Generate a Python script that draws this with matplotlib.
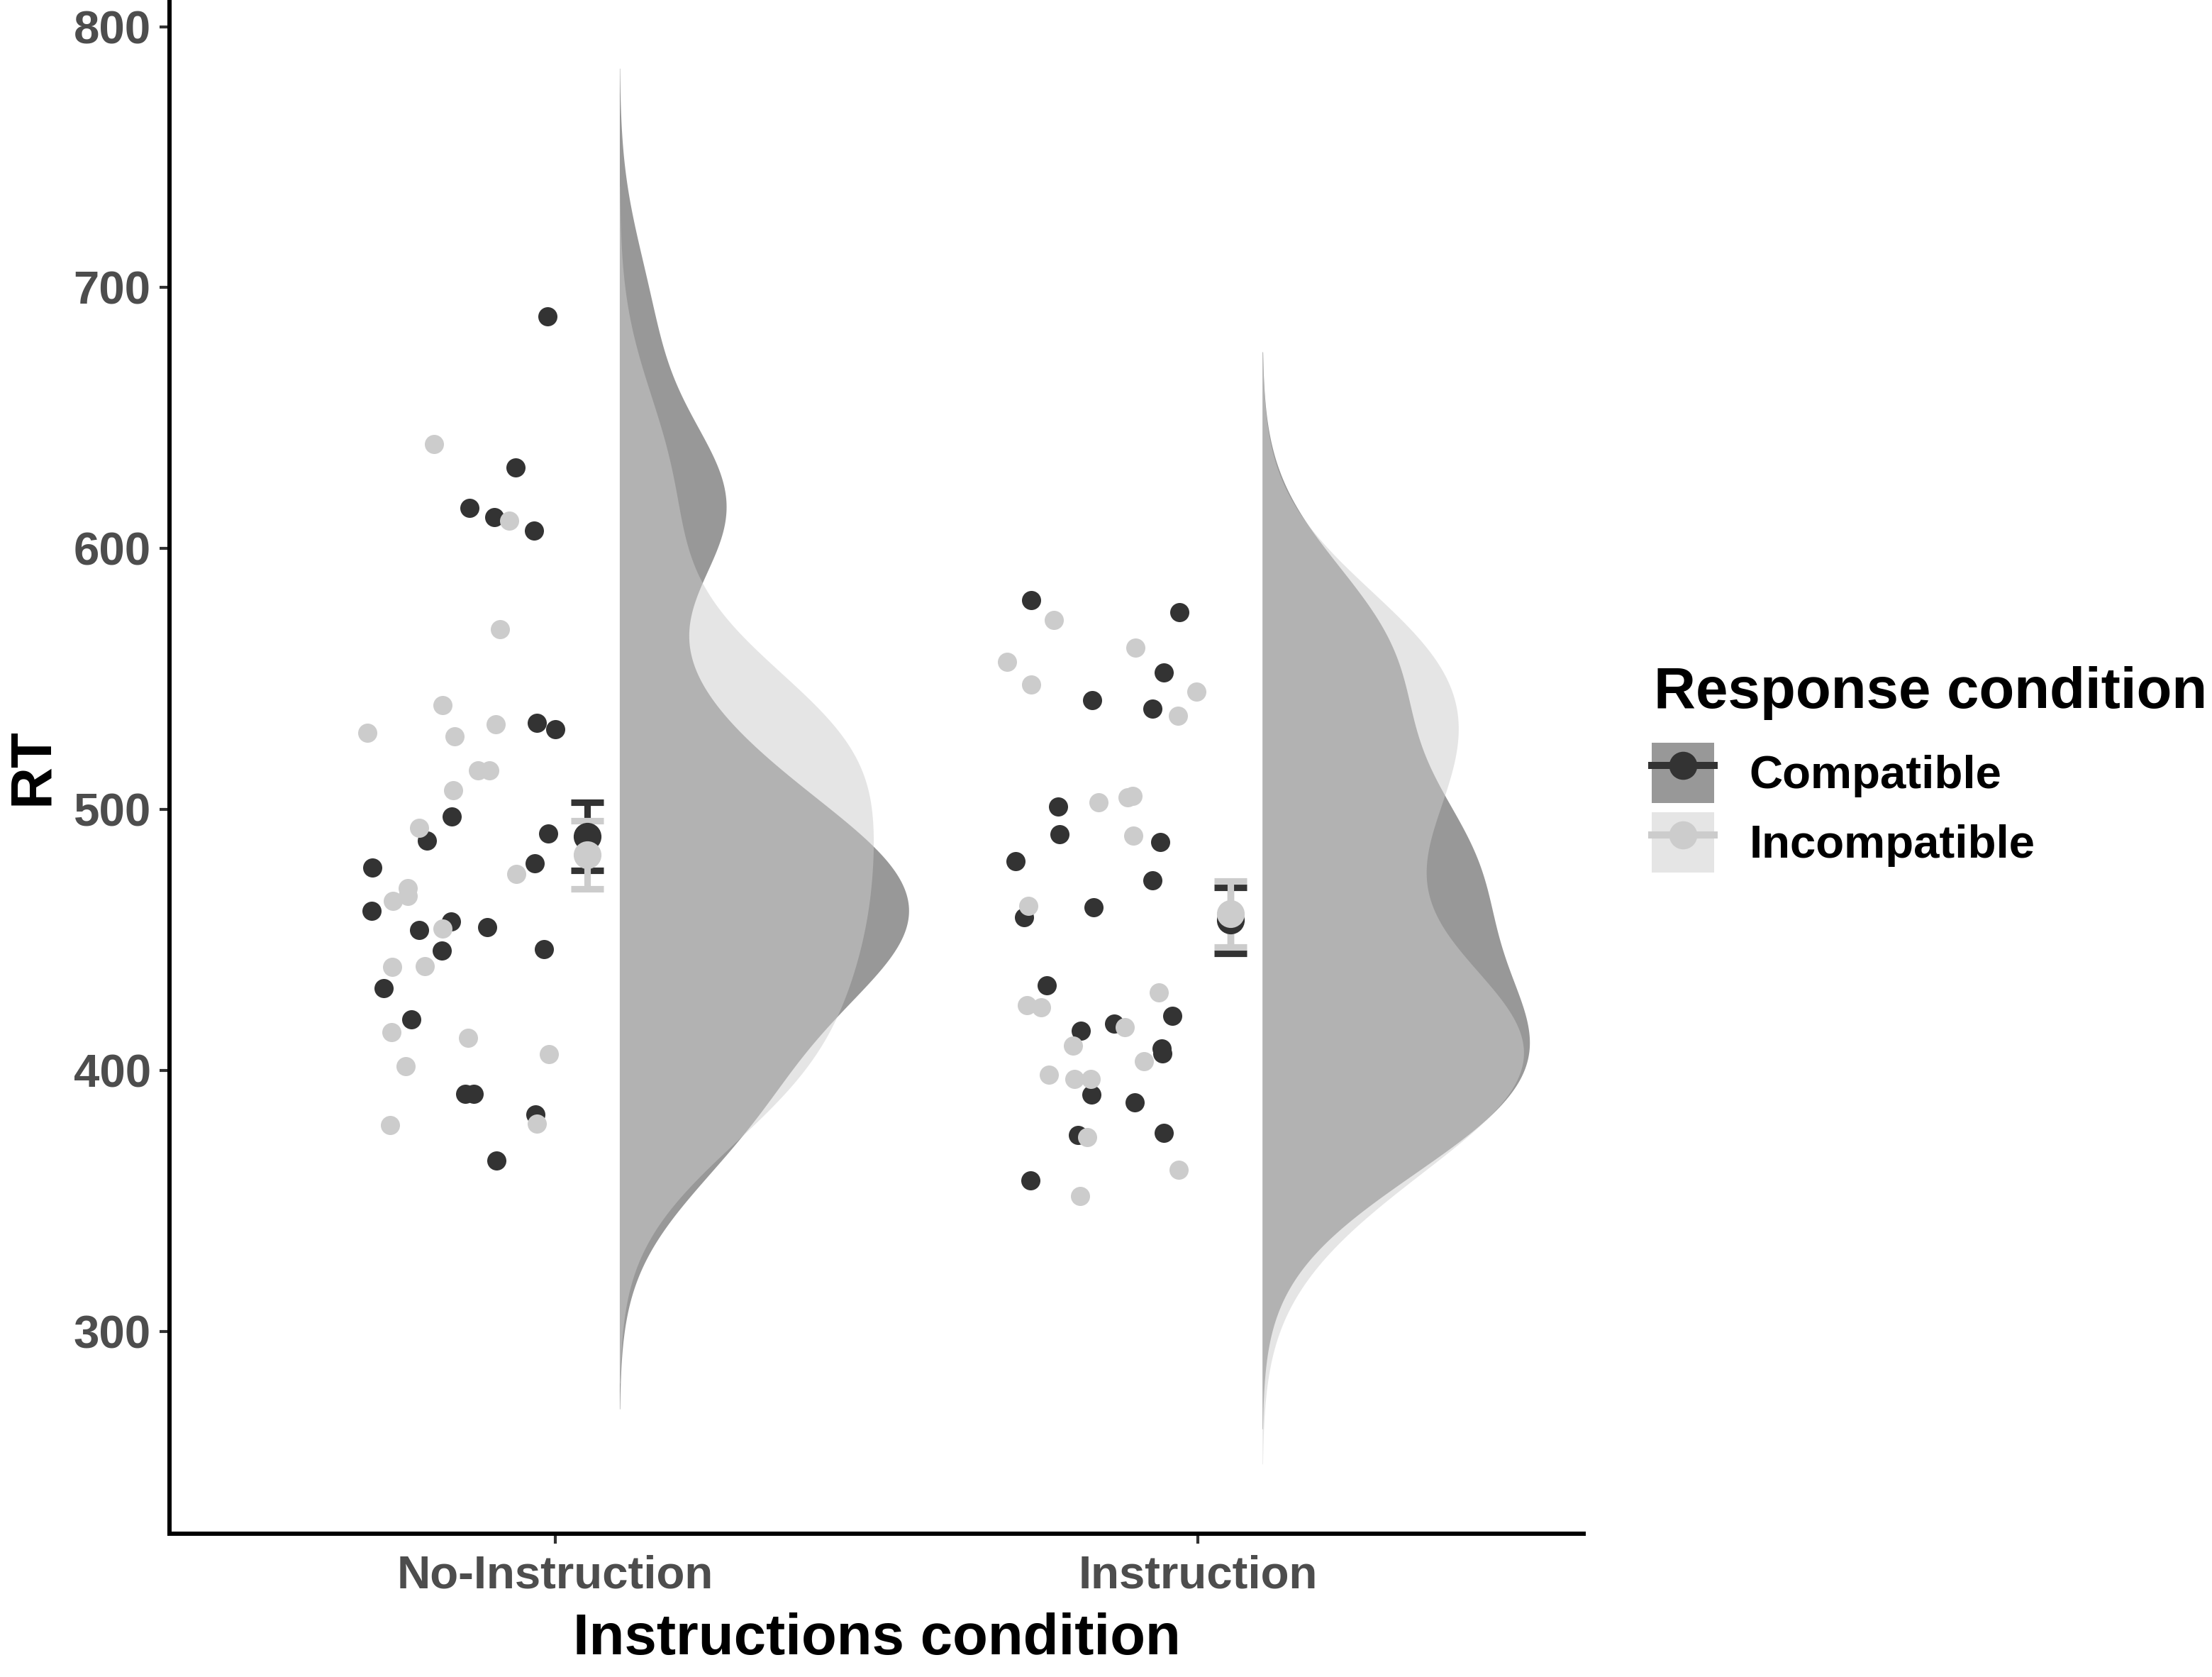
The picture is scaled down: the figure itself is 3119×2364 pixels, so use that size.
import numpy as np
import matplotlib
matplotlib.use("Agg")
import matplotlib.pyplot as plt
from matplotlib.patches import Patch
from matplotlib.lines import Line2D

plt.rcParams['font.family'] = ['Liberation Sans', 'DejaVu Sans']

# ---- data ----------------------------------------------------------------
categories = ["No-Instruction", "Instruction"]
responses = ["Compatible", "Incompatible"]

# No-Instruction
noinst_comp_rt = [689, 631, 615.5, 612, 607, 533.3, 530.8, 497.4, 488.1, 490.9, 477.9, 479.4,
                  461.1, 457, 454, 454.9, 446, 446.4, 431.5, 419.6, 391, 391, 383.2, 365.4]
noinst_comp_jit = [-0.012, -0.062, -0.133, -0.095, -0.033, -0.029, 0.000, -0.161, -0.200, -0.011, -0.285, -0.032,
                   -0.286, -0.162, -0.212, -0.106, -0.176, -0.017, -0.267, -0.224, -0.140, -0.127, -0.031, -0.091]
noinst_incomp_rt = [640, 610.7, 569, 540, 529.4, 528, 532.7, 515, 515, 507.5, 492.9, 475.4,
                    469.8, 466.8, 465.1, 454.3, 439.8, 440.1, 414.8, 412.5, 406.2, 401.7, 379.8, 379.1]
noinst_incomp_jit = [-0.188, -0.071, -0.086, -0.175, -0.292, -0.156, -0.092, -0.120, -0.102, -0.159, -0.212, -0.060,
                     -0.229, -0.229, -0.253, -0.175, -0.254, -0.203, -0.255, -0.135, -0.010, -0.233, -0.028, -0.257]

# Instruction
inst_comp_rt = [580.3, 575.6, 552.6, 542, 538.7, 501.2, 490.6, 487.6, 480.1, 472.8, 462.5, 458.8,
                432.6, 420.9, 415.2, 418, 408.4, 406.7, 390.8, 387.9, 375.4, 376, 357.8]
inst_comp_jit = [-0.260, -0.029, -0.053, -0.165, -0.071, -0.218, -0.215, -0.059, -0.284, -0.071, -0.162, -0.270,
                 -0.235, -0.040, -0.182, -0.130, -0.057, -0.055, -0.166, -0.098, -0.187, -0.053, -0.261]
inst_incomp_rt = [572.6, 562.1, 556.7, 545.2, 547.8, 535.9, 502.8, 504.6, 505.3, 490.1, 463.2, 425.1,
                  424.2, 430, 416.6, 409.5, 403.7, 398.3, 396.7, 396.7, 374.5, 361.9, 351.9]
inst_incomp_jit = [-0.224, -0.097, -0.297, -0.002, -0.259, -0.031, -0.155, -0.109, -0.102, -0.101, -0.264, -0.266,
                   -0.244, -0.061, -0.114, -0.194, -0.084, -0.232, -0.192, -0.167, -0.172, -0.030, -0.183]

# summary (mean +/- error)
mean_comp = [489.7, 457.6]
err_comp = [13.1, 12.65]
mean_incomp = [482.7, 460.0]
err_incomp = [13.1, 12.6]

COL = {"Compatible": "#333333", "Incompatible": "#CCCCCC"}


def bw_nrd0(x):
    x = np.asarray(x)
    sd = np.std(x, ddof=1)
    iqr = np.subtract(*np.percentile(x, [75, 25]))
    lo = min(sd, iqr / 1.34)
    return 0.9 * lo * len(x) ** -0.2


def kde(x):
    x = np.asarray(x)
    bw = bw_nrd0(x)
    grid = np.linspace(x.min() - 3 * bw, x.max() + 3 * bw, 512)
    dens = np.exp(-0.5 * ((grid[:, None] - x[None, :]) / bw) ** 2).sum(axis=1)
    dens /= len(x) * bw * np.sqrt(2 * np.pi)
    return grid, dens


groups = [
    (0, "Compatible", noinst_comp_rt, noinst_comp_jit),
    (0, "Incompatible", noinst_incomp_rt, noinst_incomp_jit),
    (1, "Compatible", inst_comp_rt, inst_comp_jit),
    (1, "Incompatible", inst_incomp_rt, inst_incomp_jit),
]

fig = plt.figure(figsize=(3119 / 300, 2364 / 300), dpi=300)
ax = fig.add_axes([239 / 3119, 1 - 2161.5 / 2364, (2233 - 239) / 3119, 2161.5 / 2364])

# half violins (area scaled, shared max width)
dens_all = [kde(g[2]) for g in groups]
dmax = max(d.max() for _, d in dens_all)
for (ci, resp, _, _), (grid, d) in zip(groups, dens_all):
    x0 = ci + 1 + 0.1
    ax.fill_betweenx(grid, x0, x0 + d / dmax * 0.45, color=COL[resp], alpha=0.5,
                     linewidth=0, zorder=1)

# jittered points
for ci, resp, rt, jit in groups:
    ax.scatter(ci + 1 + np.asarray(jit), rt, s=42, color=COL[resp],
               linewidths=0, zorder=2)

# mean +/- error bars
for resp, means, errs in [("Compatible", mean_comp, err_comp),
                          ("Incompatible", mean_incomp, err_incomp)]:
    ax.errorbar(np.arange(1, 3) + 0.05, means, yerr=errs, fmt='o', color=COL[resp],
                ms=8.4, elinewidth=2.2, capsize=5.5, capthick=2.2, zorder=3)

ax.set_xlim(0.4, 2.6)
ax.set_ylim(222.7, 810.2)
ax.set_xticks([1, 2])
ax.set_xticklabels(categories)
ax.set_yticks([300, 400, 500, 600, 700, 800])

for s in ["top", "right"]:
    ax.spines[s].set_visible(False)
for s in ["left", "bottom"]:
    ax.spines[s].set_linewidth(1.44)
    ax.spines[s].set_color("black")

ax.tick_params(axis="both", direction="out", length=3.4, width=1.0, color="#333333",
               labelsize=15.7, labelcolor="#4D4D4D")
ax.tick_params(axis="x", pad=3.9)
ax.tick_params(axis="y", pad=2.9)
for lab in ax.get_xticklabels() + ax.get_yticklabels():
    lab.set_fontweight("bold")

ax.set_ylabel("RT", fontsize=19.6, fontweight="bold", color="black",
              rotation=90, va="center", ha="center")
ax.yaxis.set_label_coords((46 - 239) / 1994, 0.5)
ax.set_xlabel("Instructions condition", fontsize=19.6, fontweight="bold", color="black",
              va="baseline")
ax.xaxis.set_label_coords(0.5, (2161.5 - 2331.7) / 2161.5)

# legend: title as its own text, keys below
fig.text(2332 / 3119, 1 - 998 / 2364, "Response condition", fontsize=19.6,
         fontweight="bold", color="black", ha="left", va="baseline")

handles = []
for resp in responses:
    handles.append((Patch(facecolor=COL[resp], alpha=0.5, edgecolor="none"),
                    Line2D([], [], color=COL[resp], lw=2.4, marker="o", ms=8.5)))

leg = fig.legend(handles, responses, loc="upper left",
                 bbox_to_anchor=(2329 / 3119, 1 - 1047 / 2364), frameon=False,
                 prop={"weight": "bold", "size": 15.7},
                 handlelength=1.35, handleheight=1.62, handletextpad=0.75,
                 labelspacing=0.2, borderpad=0, borderaxespad=0)

fig.savefig("out.png", dpi=300)
